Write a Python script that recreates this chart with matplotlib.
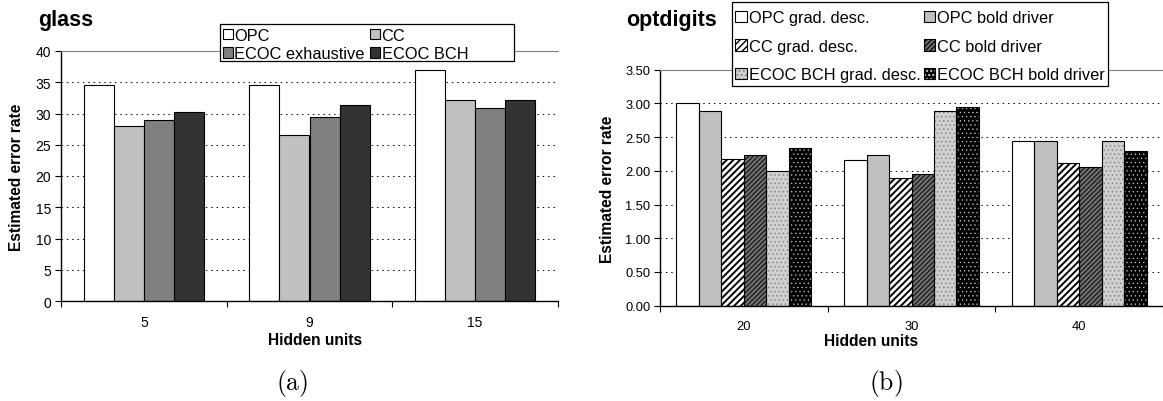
import matplotlib
matplotlib.use("Agg")
import matplotlib.pyplot as plt
import numpy as np
from matplotlib.patches import Patch, Rectangle

plt.rcParams['font.family'] = ['Liberation Sans', 'DejaVu Sans']
plt.rcParams['mathtext.fontset'] = 'cm'

# ---------------- data ----------------
glass_units = ["5", "9", "15"]
glass_series = ["OPC", "CC", "ECOC exhaustive", "ECOC BCH"]
glass_opc = [34.5, 34.5, 36.9]
glass_cc = [28.0, 26.6, 32.2]
glass_exh = [28.9, 29.5, 30.9]
glass_bch = [30.3, 31.3, 32.2]

opt_units = ["20", "30", "40"]
opt_series = ["OPC grad. desc.", "OPC bold driver", "CC grad. desc.",
              "CC bold driver", "ECOC BCH grad. desc.", "ECOC BCH bold driver"]
opt_opc_gd = [3.00, 2.16, 2.45]
opt_opc_bd = [2.89, 2.23, 2.45]
opt_cc_gd = [2.17, 1.89, 2.12]
opt_cc_bd = [2.23, 1.95, 2.06]
opt_bch_gd = [2.00, 2.89, 2.45]
opt_bch_bd = [2.34, 2.95, 2.29]

W, H = 1163, 402
fig = plt.figure(figsize=(W / 100, H / 100), dpi=100)


def fx(px):
    return px / W


def fy(py):
    return 1 - py / H


def style_axes(ax, ymax, ystep, fmt, cats, xmax, tfs, xpad):
    ax.set_ylim(0, ymax)
    ax.set_xlim(-0.5, xmax)
    ticks = np.arange(0, ymax + ystep / 2, ystep)
    ax.set_yticks(ticks)
    ax.set_yticklabels([fmt.format(t) for t in ticks], fontsize=tfs)
    for t in ticks[1:-1]:
        ax.axhline(t, color='black', lw=0.7, ls=(0, (1.5, 4)), zorder=0)
    ax.set_xticks(np.arange(-0.5, len(cats), 1.0))
    ax.set_xticklabels([])
    ax.set_xticks(np.arange(len(cats)), minor=True)
    ax.set_xticklabels(cats, minor=True, fontsize=tfs)
    ax.tick_params(axis='x', which='major', direction='out', length=4, width=0.8)
    ax.tick_params(axis='x', which='minor', length=0, pad=xpad)
    ax.tick_params(axis='y', direction='out', length=4, width=0.8, pad=3)
    ax.spines['right'].set_visible(False)
    ax.spines['top'].set_color('#808080')
    ax.spines['top'].set_linewidth(0.8)
    ax.spines['left'].set_linewidth(1.0)
    ax.spines['bottom'].set_linewidth(1.0)
    ax.set_facecolor('white')


LEGFS = 11.8

# ---------------- (a) glass ----------------
ax1 = fig.add_axes([fx(61), fy(302), fx(497), 250 / H])
glass_vals = [glass_opc, glass_cc, glass_exh, glass_bch]
glass_colors = ['white', '#c0c0c0', '#808080', '#333333']
n = len(glass_vals)
gw = 0.728
bw = gw / n
x = np.arange(len(glass_units))
glass_handles = []
for i, (vals, c) in enumerate(zip(glass_vals, glass_colors)):
    ax1.bar(x - gw / 2 + bw * (i + 0.5), vals, width=bw, color=c,
            edgecolor='black', linewidth=0.8, zorder=2)
    glass_handles.append(Patch(facecolor=c, edgecolor='black', linewidth=0.8))
style_axes(ax1, 40, 5, "{:.0f}", glass_units, 2.44, 10, 10)

fig.add_artist(Rectangle((fx(220), fy(62)), fx(294), 37 / H, transform=fig.transFigure,
                         facecolor='white', edgecolor='black', linewidth=0.9, zorder=5))
order = [0, 2, 1, 3]
leg1 = fig.legend([glass_handles[k] for k in order], [glass_series[k] for k in order],
                  ncol=2, loc='upper left', bbox_to_anchor=(fx(221), fy(27)),
                  bbox_transform=fig.transFigure, borderaxespad=0, fontsize=LEGFS,
                  frameon=False, handlelength=0.62, handleheight=0.62,
                  handletextpad=0.1, labelspacing=0.22, columnspacing=0.3,
                  borderpad=0.1)
leg1.set_zorder(6)

fig.text(fx(38), fy(26), "glass", fontsize=15.5, fontweight='bold', va='baseline')
fig.text(fx(16.5), fy(177), "Estimated error rate", fontsize=11.2, fontweight='bold',
         rotation=90, ha='center', va='center')
fig.text(fx(315), fy(341), "Hidden units", fontsize=11.2, fontweight='bold',
         ha='center', va='center')
fig.text(fx(292), fy(384), r"$\mathrm{(a)}$", fontsize=18.5, ha='center', va='center')

# ---------------- (b) optdigits ----------------
ax2 = fig.add_axes([fx(660), fy(306.7), fx(503), 236 / H])
opt_vals = [opt_opc_gd, opt_opc_bd, opt_cc_gd, opt_cc_bd, opt_bch_gd, opt_bch_bd]
# (facecolor, hatch, hatchcolor, hatch linewidth)
opt_styles = [
    ('white', None, 'black', 1.0),
    ('#c0c0c0', None, 'black', 1.0),
    ('white', '/////', 'black', 1.4),
    ('#707070', '///////', '#101010', 0.8),
    ('#d0d0d0', '....', '#8a8a8a', 0.6),
    ('black', '....', '#d0d0d0', 0.4),
]
n = len(opt_vals)
gw = 0.805
bw = gw / n
x = np.arange(len(opt_units))
opt_handles = []
for i, (vals, st) in enumerate(zip(opt_vals, opt_styles)):
    fc, hatch, hc, hlw = st
    pos = x - gw / 2 + bw * (i + 0.5)
    with plt.rc_context({'hatch.linewidth': hlw}):
        ax2.bar(pos, vals, width=bw, color=fc, edgecolor=hc, hatch=hatch,
                linewidth=0, zorder=2)
        hp = Patch(facecolor=fc, edgecolor=hc, hatch=hatch, linewidth=0)
    ax2.bar(pos, vals, width=bw, fill=False, edgecolor='black', linewidth=0.8, zorder=3)
    op = Patch(fill=False, edgecolor='black', linewidth=0.8)
    opt_handles.append((hp, op))
style_axes(ax2, 3.5, 0.5, "{:.2f}", opt_units, 2.48, 9.3, 10)

fig.add_artist(Rectangle((fx(732), fy(87)), fx(376), 84 / H, transform=fig.transFigure,
                         facecolor='white', edgecolor='black', linewidth=0.9, zorder=5))
order = [0, 2, 4, 1, 3, 5]
leg2 = fig.legend([opt_handles[k] for k in order], [opt_series[k] for k in order],
                  ncol=2, loc='upper left', bbox_to_anchor=(fx(733), fy(9)),
                  bbox_transform=fig.transFigure, borderaxespad=0, fontsize=LEGFS,
                  frameon=False, handlelength=0.7, handleheight=0.7,
                  handletextpad=0.12, labelspacing=0.82, columnspacing=0.2,
                  borderpad=0.15)
leg2.set_zorder(6)

fig.text(fx(626), fy(26), "optdigits", fontsize=15.5, fontweight='bold', va='baseline')
fig.text(fx(607), fy(189), "Estimated error rate", fontsize=11.2, fontweight='bold',
         rotation=90, ha='center', va='center')
fig.text(fx(871), fy(342), "Hidden units", fontsize=11.2, fontweight='bold',
         ha='center', va='center')
fig.text(fx(886), fy(384), r"$\mathrm{(b)}$", fontsize=18.5, ha='center', va='center')

fig.savefig("out.png", dpi=100)
